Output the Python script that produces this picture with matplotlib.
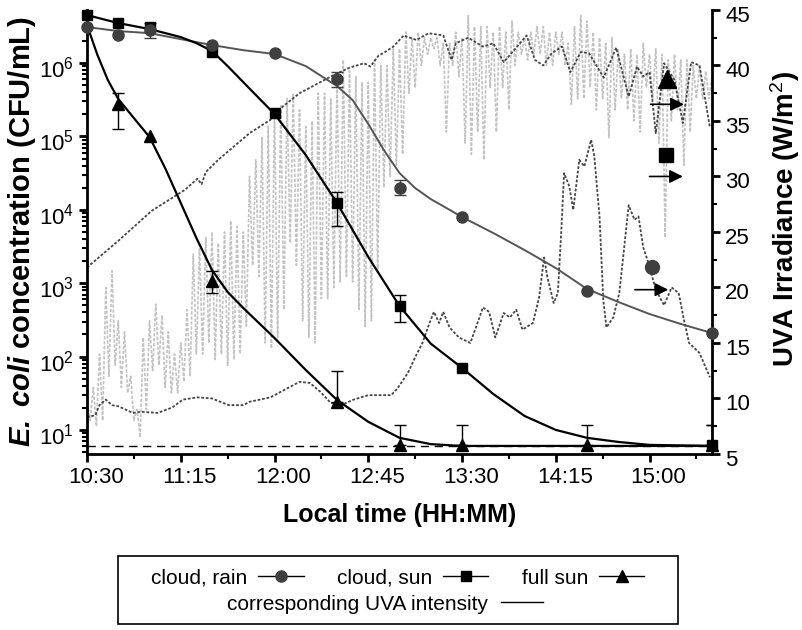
import numpy as np
import matplotlib
matplotlib.use('Agg')
import matplotlib.pyplot as plt
from matplotlib.lines import Line2D
from matplotlib.patches import Rectangle
from matplotlib.transforms import ScaledTranslation
from matplotlib.ticker import LogLocator, MultipleLocator, FixedLocator, NullFormatter

plt.rcParams['font.family'] = ['Liberation Sans', 'DejaVu Sans']
plt.rcParams['mathtext.fontset'] = 'custom'
plt.rcParams['mathtext.rm'] = 'Liberation Sans'
plt.rcParams['mathtext.it'] = 'Liberation Sans:italic'
plt.rcParams['mathtext.bf'] = 'Liberation Sans:bold'
plt.rcParams['mathtext.bfit'] = 'Liberation Sans:italic:bold'

### DATA (time in minutes after 10:30) ###

tick_minutes = [0, 45, 90, 135, 180, 225, 270]
tick_labels = ['10:30', '11:15', '12:00', '12:45', '13:30', '14:15', '15:00']

# measured E. coli counts (CFU/mL)
rain_t = [0, 15, 30, 60, 90, 120, 150, 180, 240, 300]
rain_cfu = [3.1e6, 2.4e6, 2.8e6, 1.76e6, 1.37e6, 6.0e5, 2.0e4, 8.0e3, 7.8e2, 2.1e2]
rain_err_t = [30, 120, 150]
rain_err_lo = [2.2e6, 4.7e5, 1.6e4]
rain_err_hi = [3.5e6, 7.5e5, 2.55e4]

sun_t = [0, 15, 30, 60, 90, 120, 150, 180, 300]
sun_cfu = [4.5e6, 3.5e6, 3.1e6, 1.41e6, 2.08e5, 1.24e4, 490, 70, 6.3]
sun_err_t = [120, 150, 300]
sun_err_lo = [6.0e3, 296, 6.3]
sun_err_hi = [1.75e4, 690, 11.7]

full_t = [15, 30, 60, 120, 150, 180, 240, 300]
full_cfu = [2.76e5, 1.01e5, 1.07e3, 24, 6.2, 6.2, 6.2, 6.2]
full_err_t = [15, 60, 120, 150, 180, 240, 300]
full_err_lo = [1.26e5, 735, 24, 6.2, 6.2, 6.2, 6.2]
full_err_hi = [3.9e5, 1470, 64, 11.7, 11.7, 11.7, 11.7]

detection_limit = 6.05

# fitted inactivation curves
fit_rain_t = [0, 15, 30, 45, 60, 75, 90, 105, 112.5, 120, 127.5, 135, 142.5, 150, 157.5,
              165, 172.5, 180, 195, 210, 225, 240, 255, 270, 285, 300]
fit_rain = [3.1e6, 2.73e6, 2.56e6, 2.12e6, 1.76e6, 1.50e6, 1.33e6, 9.1e5, 6.65e5, 4.86e5,
            3.13e5, 1.48e5, 6.5e4, 3.17e4, 1.98e4, 1.40e4, 1.06e4, 7.98e3, 4.83e3, 2.83e3,
            1.61e3, 834, 555, 380, 278, 209]

fit_sun_t = [0, 15, 30, 45, 52.5, 60, 67.5, 75, 90, 105, 120, 135, 150, 165, 180, 195,
             210, 225, 240, 255, 270, 300]
fit_sun = [4.51e6, 3.51e6, 2.91e6, 2.26e6, 1.87e6, 1.46e6, 9.1e5, 5.5e5, 2.02e5, 5.58e4,
           1.24e4, 2.28e3, 489, 150, 70, 30.9, 15.5, 10, 7.8, 6.86, 6.25, 6.05]

fit_full_t = [0, 5, 10, 15, 22.5, 30, 37.5, 45, 52.5, 60, 67.5, 75, 90, 105, 120, 135,
              150, 165, 180, 300]
fit_full = [3.30e6, 1.29e6, 5.86e5, 3.24e5, 1.78e5, 9.82e4, 3.71e4, 1.24e4, 4.13e3, 1.51e3,
            759, 459, 179, 65.6, 25.6, 12.9, 7.8, 6.4, 6.05, 6.05]

# UVA irradiance (W/m2)
uva_full_t = [0, 15, 31, 47, 53, 55, 57, 63, 78, 88, 94, 102, 111, 118, 126, 133, 136, 140,
              143, 147, 152, 158, 164, 171, 175, 177, 183, 190, 195, 200, 206, 211, 215,
              219, 223, 228, 232, 237, 241, 248, 254, 260, 264, 267, 270, 273, 277, 282,
              286, 290, 294, 299]
uva_full = [21.8, 24.2, 26.9, 28.8, 29.8, 29.3, 30.4, 31.5, 33.9, 35.1, 36.3, 37.5, 38.4,
            39.1, 39.8, 40.2, 39.9, 40.9, 41.2, 41.7, 42.7, 42.3, 42.9, 42.7, 40.5, 42.0,
            42.5, 41.7, 42.0, 40.3, 41.6, 42.7, 40.5, 40.0, 41.1, 41.7, 39.4, 41.2, 41.1,
            38.9, 41.6, 37.2, 39.9, 39.0, 39.4, 33.9, 40.2, 38.7, 34.8, 40.3, 40.0, 34.4]

uva_rain_t = [0, 4, 6, 9, 12, 15, 22, 26, 34, 41, 46, 53, 60, 68, 75, 78, 88, 96, 102, 107,
              112, 117, 122, 128, 135, 146, 149, 154, 158, 161, 164, 166.5, 169, 171, 174,
              178.5, 184, 188, 190, 193, 196, 200, 203, 206, 209, 214, 217, 219.4, 221, 224,
              226, 227.6, 229, 231.5, 233.4, 236.3, 238.7, 242, 243.5, 246, 247.8, 249.3,
              252.6, 255.5, 260, 262.8, 264.7, 267, 269.5, 273, 277, 280.6, 284, 286.3, 289,
              294, 299]
uva_rain = [8.3, 8.5, 9.4, 9.9, 9.4, 9.3, 8.7, 8.8, 8.7, 9.2, 9.9, 10.1, 10.0, 9.4, 9.4, 9.7,
            10.1, 10.9, 11.5, 11.4, 10.6, 9.6, 9.4, 9.9, 10.3, 10.3, 10.9, 12.3, 13.9, 15.0,
            16.6, 17.8, 16.8, 17.8, 16.4, 15.5, 15.0, 17.1, 18.2, 17.8, 15.5, 17.7, 17.3,
            18.0, 16.2, 16.8, 19.1, 22.7, 20.9, 18.6, 19.5, 24.9, 30.3, 29.1, 27.0, 31.5,
            30.9, 33.3, 31.8, 26.4, 18.9, 16.4, 17.3, 19.5, 27.4, 26.1, 26.4, 23.6, 22.2,
            19.8, 18.4, 20.0, 19.5, 17.3, 15.0, 14.1, 11.9]

# cloud/sun UVA: upper and lower edges of the fluctuations, every 3 min
uva_cs_t = np.arange(0, 301, 3)
uva_cs_hi = [10, 11, 14, 20, 21.5, 17, 16, 12, 9, 15.5,
             17, 18.5, 17.5, 16, 14, 15, 18, 23, 23.5, 24.5,
             25, 24, 25, 26, 25.5, 25, 30, 31.5, 33.5, 34.5,
             36, 36.5, 37, 37.5, 36, 34.5, 35, 37.5, 37.5, 37,
             39, 40.5, 39.5, 39, 38.5, 38.5, 40.5, 40, 40, 41.5,
             41.5, 43, 42.5, 43, 42.5, 42.5, 42.5, 42, 42, 43,
             42.5, 44.5, 43.5, 43.5, 43.5, 43, 43.5, 43, 44, 43,
             42.5, 43, 43.5, 43.5, 43, 43, 43, 42, 43.5, 44.5,
             44, 43, 42.5, 42, 42.5, 41.5, 41, 41.5, 41, 42,
             41, 41.5, 41, 40.5, 41, 40.5, 40.5, 40, 40, 39.5,
             39]
uva_cs_lo = [8, 7.5, 8, 12, 13, 11, 10.5, 8, 6.5, 9,
             12.5, 13, 11, 10.5, 10.5, 11.5, 12, 14, 14, 15,
             13.5, 14, 13, 13.5, 14, 16.5, 22, 21, 15, 14.5,
             15.5, 18, 24, 22, 17, 15.5, 15, 19, 19, 20,
             20.5, 21, 20.5, 18, 16.5, 17, 21.5, 29, 30, 31,
             32, 37.5, 38, 40, 41, 41.5, 40, 34, 40, 39,
             33, 32, 34, 31.5, 38, 34, 38, 36, 40, 41,
             40.5, 41, 41, 40, 40, 41, 40, 36.5, 37, 37,
             38, 36, 37, 33.5, 36, 37, 36, 35, 34, 38,
             37, 33, 24.5, 35, 36, 31, 34, 37, 37, 37]

# keys next to the UVA traces (marker position and arrow start/end)
key_t = [278.6, 277.7, 271.4]
key_uva = [38.8, 31.9, 21.8]
arrow_t0 = [270.5, 270.0, 263.0]
arrow_t1 = [286.5, 286.0, 279.0]
arrow_uva = [36.5, 30.0, 19.8]

rain_col = '#3f3f3f'
rain_line = '#555555'

fig = plt.figure(figsize=(8.02, 6.30), dpi=100)
ax = fig.add_axes([0.1085, 0.2794, 0.7793, 0.7048])
ax2 = ax.twinx()
ax.set_zorder(ax2.get_zorder() + 1)
ax.patch.set_visible(False)

# UVA traces
cs_t = np.empty(len(uva_cs_hi) + len(uva_cs_lo))
cs_v = np.empty_like(cs_t)
cs_t[0::2] = uva_cs_t
cs_t[1::2] = uva_cs_t[:-1] + 1.5
cs_v[0::2] = uva_cs_hi
cs_v[1::2] = uva_cs_lo
ax2.plot(cs_t, cs_v, color='#c2c2c2', lw=1.2, ls=(0, (2, 1)), zorder=1)
ax2.plot(uva_full_t, uva_full, color='#444444', lw=1.3, ls=(0, (1.5, 1)), zorder=2)
ax2.plot(uva_rain_t, uva_rain, color='#444444', lw=1.3, ls=(0, (1.5, 1)), zorder=2)

key_style = [dict(marker='^', ms=13, color='black'),
             dict(marker='s', ms=10, color='black'),
             dict(marker='o', ms=10, color=rain_col)]
for i in range(3):
    ax2.plot(key_t[i], key_uva[i], ls='none', zorder=3, **key_style[i])
    ax2.annotate('', xy=(arrow_t1[i], arrow_uva[i]), xytext=(arrow_t0[i], arrow_uva[i]),
                 arrowprops=dict(arrowstyle='-|>', color='black', lw=1.2, mutation_scale=20,
                                 shrinkA=0, shrinkB=0),
                 zorder=3)

# concentrations
ax.axhline(detection_limit, color='black', lw=1, ls=(0, (6, 4)), zorder=1)
ax.plot(fit_rain_t, fit_rain, color=rain_line, lw=1.4, zorder=2)
ax.plot(fit_sun_t, fit_sun, color='black', lw=1.6, zorder=2)
ax.plot(fit_full_t, fit_full, color='black', lw=1.6, zorder=2)


def err(t_all, v_all, t_err, lo, hi):
    v = np.array([v_all[t_all.index(t)] for t in t_err])
    return v, [v - np.array(lo), np.array(hi) - v]


v, e = err(rain_t, rain_cfu, rain_err_t, rain_err_lo, rain_err_hi)
ax.errorbar(rain_err_t, v, yerr=e, fmt='none', ecolor=rain_col, elinewidth=1, capsize=4, capthick=1, zorder=3)
v, e = err(sun_t, sun_cfu, sun_err_t, sun_err_lo, sun_err_hi)
ax.errorbar(sun_err_t, v, yerr=e, fmt='none', ecolor='black', elinewidth=1, capsize=4, capthick=1, zorder=3)
v, e = err(full_t, full_cfu, full_err_t, full_err_lo, full_err_hi)
ax.errorbar(full_err_t, v, yerr=e, fmt='none', ecolor='black', elinewidth=1, capsize=4, capthick=1, zorder=3)

ax.plot(full_t, full_cfu, ls='none', marker='^', ms=9, color='black', zorder=4, clip_on=False)
ax.plot(sun_t, sun_cfu, ls='none', marker='s', ms=7, color='black', zorder=4, clip_on=False)
ax.plot(rain_t, rain_cfu, ls='none', marker='o', ms=8, color=rain_col, zorder=5, clip_on=False)

# axes
ax.set_yscale('log')
ax.set_xlim(0, 300)
ax.set_ylim(4.7, 5.3e6)
ax2.set_ylim(5, 45)
ax.xaxis.set_major_locator(FixedLocator(tick_minutes))
ax.set_xticklabels(tick_labels)
ax.xaxis.set_minor_locator(MultipleLocator(22.5))
ax.yaxis.set_major_locator(LogLocator(base=10, numticks=12))
ax.yaxis.set_minor_locator(LogLocator(base=10, subs=np.arange(2, 10), numticks=12))
ax.yaxis.set_minor_formatter(NullFormatter())
ax2.yaxis.set_major_locator(MultipleLocator(5))
ax2.yaxis.set_minor_locator(MultipleLocator(2.5))

for a in (ax, ax2):
    a.spines['top'].set_visible(False)
    a.tick_params(which='major', direction='out', length=6, width=2, labelsize=16)
    a.tick_params(which='minor', direction='out', length=3.5, width=1.5)
ax.spines['right'].set_visible(False)
ax2.spines['left'].set_visible(False)
ax2.spines['bottom'].set_visible(False)
for s in ('left', 'bottom'):
    ax.spines[s].set_linewidth(2)
ax2.spines['right'].set_linewidth(2)

# tick labels sit a little right of / below their ticks in the original
fig.canvas.draw()
shift_x = ScaledTranslation(0.09, 0, fig.dpi_scale_trans)
shift_y = ScaledTranslation(0, -0.04, fig.dpi_scale_trans)
for lab in ax.get_xticklabels():
    lab.set_transform(lab.get_transform() + shift_x)
for lab in ax.get_yticklabels() + ax2.get_yticklabels():
    lab.set_transform(lab.get_transform() + shift_y)

ax.set_ylabel(r'$\mathbfit{E.\ coli}$ concentration (CFU/mL)', fontsize=21, fontweight='bold')
ax.yaxis.set_label_coords(-0.078, 0.5)
ax2.set_ylabel(r'UVA Irradiance (W/m$^{2}$)', fontsize=20, fontweight='bold')
ax2.yaxis.set_label_coords(1.09, 0.53)
ax.set_xlabel('Local time (HH:MM)', fontsize=18, fontweight='bold')
ax.xaxis.set_label_coords(0.5, -0.11)

# legend
h_rain = Line2D([], [], color='black', lw=1, marker='o', ms=8, mfc=rain_col, mec=rain_col)
h_sun = Line2D([], [], color='black', lw=1, marker='s', ms=7, mfc='black', mec='black')
h_full = Line2D([], [], color='black', lw=1, marker='^', ms=9, mfc='black', mec='black')
h_uva = Line2D([], [], color='black', lw=1)
fig.legend([h_rain, h_sun, h_full], ['cloud, rain', 'cloud, sun', 'full sun'], loc='center',
           bbox_to_anchor=(0.496, 0.0825), ncol=3, frameon=False, markerfirst=False,
           fontsize=15, handlelength=2.2, handletextpad=0.5, columnspacing=1.6)
fig.legend([h_uva], ['corresponding UVA intensity'], loc='center', bbox_to_anchor=(0.48, 0.041),
           frameon=False, markerfirst=False, fontsize=15, handlelength=2.0, handletextpad=0.6)
fig.add_artist(Rectangle((0.147, 0.0095), 0.698, 0.108, transform=fig.transFigure,
                         fill=False, lw=1.2, ec='black'))

fig.savefig('out.png', dpi=100)
